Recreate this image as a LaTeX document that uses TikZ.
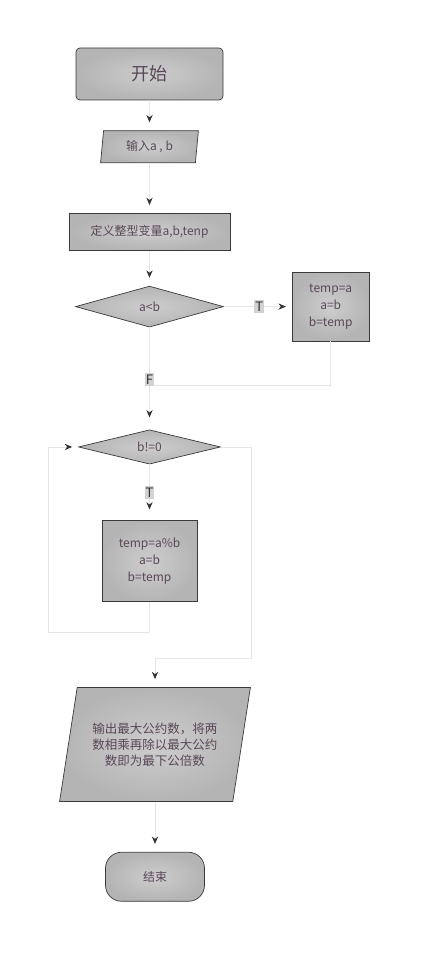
\documentclass[tikz,border=0pt]{standalone}
\usepackage{fontspec}
\setmainfont{Noto Sans CJK SC}
\usepackage{xcolor}
\usepackage{tikz}
\usetikzlibrary{
  arrows.meta,
  positioning,
  shapes.geometric,
  calc
}
\definecolor{ShapeFill}{HTML}{B4B4B4}
\definecolor{ShapeGlow}{HTML}{CDCDCD}
\definecolor{ShapeEdge}{HTML}{3A3A3A}
\definecolor{TextPlum}{HTML}{5A4858}
\definecolor{LineGray}{HTML}{E6E6E6}
\definecolor{TipGray}{HTML}{333333}
\definecolor{TagFill}{HTML}{D2D2D2}
\tikzset{
  chartbox/.style={
    draw=ShapeEdge,
    line width=0.7pt,
    inner color=ShapeGlow,
    outer color=ShapeFill,
    text=TextPlum,
    align=center,
    inner sep=0pt,
    font=\fontsize{12}{17}\selectfont
  },
  terminal/.style={
    chartbox,
    rounded corners=4pt
  },
  process/.style={
    chartbox
  },
  io/.style={
    chartbox,
    trapezium,
    trapezium stretches=true
  },
  decision/.style={
    chartbox,
    diamond
  },
  flow/.style={
    draw=LineGray,
    line width=0.8pt,
    -{Stealth[length=2.6mm,width=2.2mm,color=TipGray]},
    shorten >=8pt
  },
  link/.style={
    draw=LineGray,
    line width=0.8pt
  },
  tag/.style={
    fill=TagFill,
    text=black!80,
    inner xsep=1pt,
    inner ysep=1.5pt,
    font=\fontsize{13}{14}\selectfont
  }
}

\begin{document}
\begin{tikzpicture}[x=1pt,y=-1pt]

  \useasboundingbox (0,0) rectangle (429,965);

  \node[
    terminal,
    minimum width=147pt,
    minimum height=52pt,
    font=\fontsize{18}{20}\selectfont
  ] (start) at (149.5,74) {开始};

  \node[
    io,
    below=30pt of start,
    trapezium left angle=83,
    trapezium right angle=97,
    minimum width=98pt,
    minimum height=32pt
  ] (input) {输入a , b};

  \node[
    process,
    below=50pt of input,
    minimum width=161pt,
    minimum height=37pt
  ] (define) {定义整型变量a,b,tenp};

  \node[
    decision,
    below=35pt of define,
    minimum width=148pt,
    minimum height=41pt
  ] (lessthan) {a<b};

  \node[
    process,
    right=68pt of lessthan,
    minimum width=77pt,
    minimum height=69pt
  ] (swap) {temp=a\\a=b\\b=temp};

  \node[
    decision,
    below=102pt of lessthan,
    minimum width=142pt,
    minimum height=31pt
  ] (nonzero) {b!=0};

  \node[
    process,
    below=56pt of nonzero,
    minimum width=95pt,
    minimum height=81pt
  ] (loopbody) {temp=a\%b\\a=b\\b=temp};

  \node[
    io,
    below=85pt of loopbody,
    xshift=5.5pt,
    trapezium left angle=72,
    trapezium right angle=108,
    minimum width=191pt,
    minimum height=114pt,
    font=\fontsize{12.5}{16}\selectfont
  ] (output) {输出最大公约数，将两\\数相乘再除以最大公约\\数即为最下公倍数};

  \node[
    terminal,
    below=50pt of output,
    rounded corners=16pt,
    minimum width=99pt,
    minimum height=49pt
  ] (stop) {结束};

  % turning points of the two loops
  \coordinate (swapjoin) at (149,385);
  \coordinate (loopleft) at (48,632);
  \coordinate (exitright) at (251,658);

  \draw[flow] (start) -- (input);
  \draw[flow] (input) -- (define);
  \draw[flow] (define) -- (lessthan);

  \draw[flow, shorten >=6pt]
  (lessthan.east) --
  node[tag, pos=0.52] {T}
  (swap.west);

  \draw[link] (swap.south) |- (swapjoin);

  \draw[flow, shorten >=12pt]
  (lessthan.south) --
  node[tag, pos=0.51] {F}
  (nonzero.north);

  \draw[flow, shorten >=11pt]
  (nonzero.south) --
  node[tag, pos=0.5] {T}
  (loopbody.north);

  \draw[flow, shorten >=6pt] (loopbody.south) |- (loopleft) |- (nonzero.west);

  \draw[flow] (nonzero.east) -| (exitright) -| (output.north);

  \draw[flow] (output.south) -- (stop.north);

\end{tikzpicture}
\end{document}
